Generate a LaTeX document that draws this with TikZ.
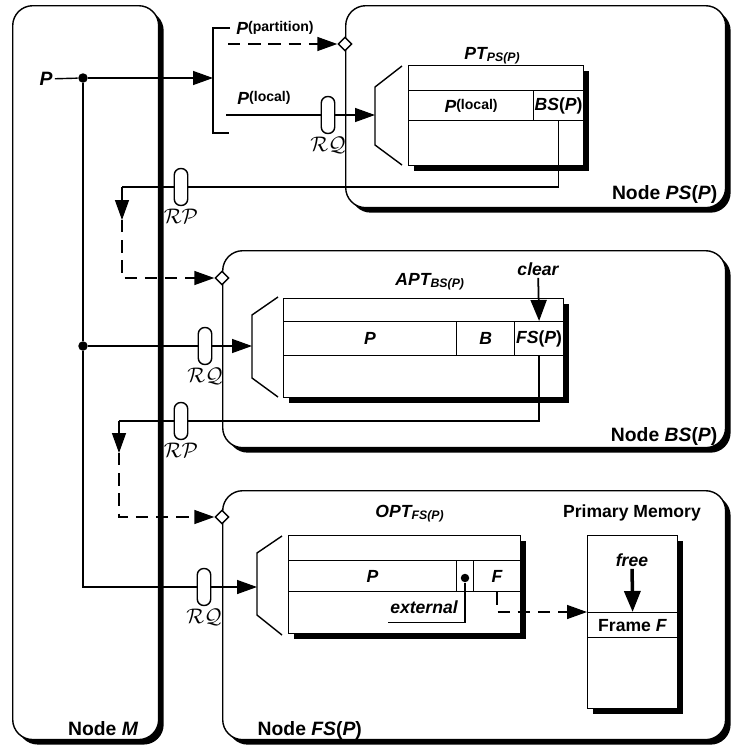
\documentclass[tikz,border=0pt]{standalone}
\usepackage{fontspec}
\setmainfont{Liberation Sans}
\usetikzlibrary{arrows.meta, positioning, shapes.geometric, shadows}

\begin{document}
\begin{tikzpicture}[
        x=0.02cm, y=-0.02cm, line width=0.8pt,
        conn/.style={line width=0.8pt},
        arr/.style={conn, -{Triangle[length=4mm, width=2.8mm]}},
        dasharr/.style={arr, dash pattern=on 7pt off 4.5pt},
        bigarr/.style={line width=1.3pt, -{Triangle[length=4.2mm, width=3.2mm]}},
        nodebox/.style={draw, fill=white, rounded corners=0.4cm, anchor=north west, inner sep=0,
          drop shadow={shadow xshift=0.1cm, shadow yshift=-0.1cm, opacity=1, fill=black}},
        tbl/.style={draw, line width=0.7pt, fill=white, anchor=north west, inner sep=0,
          drop shadow={shadow xshift=0.1cm, shadow yshift=-0.1cm, opacity=1, fill=black}},
        cell/.style={draw, line width=0.7pt, anchor=north west, inner sep=0, font=\fontsize{10}{12}\selectfont\bfseries},
        pill/.style={draw, fill=white, rounded corners=1.3mm, minimum width=2.7mm, minimum height=7.4mm, inner sep=0},
        port/.style={draw, diamond, fill=white, minimum size=2.8mm, inner sep=0},
        dot/.style={circle, fill, minimum size=1.9mm, inner sep=0},
        lbl/.style={font=\fontsize{10}{12}\selectfont\bfseries\itshape, inner sep=1pt},
        ttl/.style={font=\fontsize{10}{12}\selectfont\bfseries, inner sep=0},
        nlbl/.style={font=\fontsize{11}{13}\selectfont\bfseries, inner sep=0},
        rlbl/.style={font=\large, inner sep=1pt}
      ]
        \useasboundingbox (0,0) rectangle (732,748);

        % machine boxes
        \node[nodebox, minimum width=2.92cm, minimum height=14.68cm] (nodeM)  at (12,5) {};
        \node[nodebox, minimum width=7.6cm, minimum height=4.04cm]   (nodePS) at (345,5) {};
        \node[nodebox, minimum width=10.06cm, minimum height=3.94cm] (nodeBS) at (222,250) {};
        \node[nodebox, minimum width=10.06cm, minimum height=4.98cm] (nodeFS) at (222,490) {};
        \node[nlbl, anchor=base east] at (139,735) {Node \textit{M}};
        \node[nlbl, anchor=base east] at (718,199) {Node \textit{PS}(\textit{P})};
        \node[nlbl, anchor=base east] at (718,441) {Node \textit{BS}(\textit{P})};
        \node[nlbl, anchor=base west] at (257,735) {Node \textit{FS}(\textit{P})};

        \node[port] (psport) at (345,44) {};
        \node[port] (bsport) at (222,278) {};
        \node[port] (fsport) at (222,517) {};

        % page table on PS(P)
        \draw (402,66) -- (375,87) -- (375,145) -- (402,165);
        \coordinate (psin) at (375,115);
        \node[tbl, minimum width=3.5cm, minimum height=2cm] (pt) at (408,65) {};
        \node[cell, minimum width=2.5cm, minimum height=0.6cm] (ptloc) at (408,90)
          {\textit{P}\raisebox{.35ex}{\fontsize{8}{9}\selectfont(local)}};
        \node[cell, minimum width=1cm, minimum height=0.6cm] (ptbs) at (533,90) {\textit{BS}(\textit{P})};
        \node[lbl, anchor=base west] at (462,59) {PT\textsubscript{\textit{PS}(\textit{P})}};

        % APT on BS(P)
        \draw (278,297) -- (252,315) -- (252,378) -- (278,397);
        \coordinate (bsin) at (252,346);
        \node[tbl, minimum width=5.6cm, minimum height=1.98cm] (apt) at (283,298) {};
        \node[cell, minimum width=3.46cm, minimum height=0.68cm] (aptp) at (283,321) {\textit{P}};
        \node[cell, minimum width=1.16cm, minimum height=0.68cm] (aptb) at (456,321) {\textit{B}};
        \node[cell, minimum width=0.98cm, minimum height=0.68cm] (aptfs) at (514,321) {\textit{FS}(\textit{P})};
        \node[lbl, anchor=base west] at (393,285) {APT\textsubscript{\textit{BS}(\textit{P})}};
        \node[lbl] (clear) at (538,269) {clear};
        \draw[bigarr, line width=1pt] (clear) -- (aptfs.north);

        % OPT on FS(P)
        \draw (282,536) -- (257,553) -- (257,615) -- (282,635);
        \coordinate (fsin) at (257,587);
        \node[tbl, minimum width=4.64cm, minimum height=1.96cm] (opt) at (288,535) {};
        \node[cell, minimum width=3.36cm, minimum height=0.62cm] (optp) at (288,560) {\textit{P}};
        \node[cell, minimum width=0.34cm, minimum height=0.62cm] (optx) at (456,560) {};
        \node[cell, minimum width=0.94cm, minimum height=0.62cm] (optf) at (473,560) {\textit{F}};
        \node[lbl, anchor=base west] at (373,517) {OPT\textsubscript{\textit{FS}(\textit{P})}};
        \node[dot, minimum size=1.7mm] (extdot) at (465,578) {};
        \node[lbl, anchor=base, inner xsep=1pt, inner ysep=5pt] (ext) at (424,613) {external};
        \draw (extdot) |- (ext.south west);

        % primary memory
        \node[tbl, minimum width=1.8cm, minimum height=3.46cm] (mem) at (587,535) {};
        \node[cell, minimum width=1.8cm, minimum height=0.5cm] (frame) at (587,612) {Frame \textit{F}};
        \node[ttl, anchor=base] at (632,517) {Primary Memory};
        \node[lbl] (free) at (632,560) {free};
        \draw[bigarr, line width=2pt] (free) -- (frame.north);
        \draw[dasharr] (optf.south) |- (frame.north west);

        % request from M
        \node[lbl, font=\fontsize{11}{13}\selectfont\bfseries\itshape] (pin) at (46,79) {P};
        \node[dot] (split) at (83,78) {};
        \coordinate (brk) at (213,78);
        \draw (pin) -- (split);
        \draw[arr] (split) -- (brk);
        \draw (230,28) -| (213,133) -- (229,133);
        \coordinate (partsrc) at (228,44);
        \draw[dasharr] (partsrc) -- (psport.west);
        \node[lbl] at (275,28) {P\raisebox{.35ex}{\fontsize{8}{9}\selectfont\upshape(partition)}};
        \coordinate (locsrc) at (226,115);
        \node[pill] (rq1) at (328,115) {};
        \draw (locsrc) -- (rq1);
        \draw[arr] (rq1) -- (psin);
        \node[lbl] at (264,98) {P\raisebox{.35ex}{\fontsize{8}{9}\selectfont\upshape(local)}};
        \node[rlbl, below=0pt of rq1] {$\mathcal{RQ}$};

        % reply PS(P) -> M -> BS(P)
        \node[pill] (rp1) at (181,187) {};
        \coordinate (ret1) at (122,187);
        \coordinate (ret1tip) at (122,220);
        \draw (ptbs.south) |- (rp1);
        \draw (rp1) -- (ret1);
        \draw[arr] (ret1) -- (ret1tip);
        \draw[dasharr] (ret1tip) |- (bsport.west);
        \node[rlbl, below=0pt of rp1] {$\mathcal{RP}$};

        \node[dot] (split2) at (83,346) {};
        \node[pill] (rq2) at (205,346) {};
        \draw (split) -- (split2);
        \draw (split2) -- (rq2);
        \draw[arr] (rq2) -- (bsin);
        \node[rlbl, below=0pt of rq2] {$\mathcal{RQ}$};

        % reply BS(P) -> M -> FS(P)
        \node[pill] (rp2) at (181,421) {};
        \coordinate (ret2) at (119,421);
        \coordinate (ret2tip) at (119,453);
        \draw (aptfs.south) |- (rp2);
        \draw (rp2) -- (ret2);
        \draw[arr] (ret2) -- (ret2tip);
        \draw[dasharr] (ret2tip) |- (fsport.west);
        \node[rlbl, below=0pt of rp2] {$\mathcal{RP}$};

        \node[pill] (rq3) at (204,587) {};
        \draw (split2) |- (rq3);
        \draw[arr] (rq3) -- (fsin);
        \node[rlbl, below=0pt of rq3] {$\mathcal{RQ}$};
      \end{tikzpicture}
\end{document}
